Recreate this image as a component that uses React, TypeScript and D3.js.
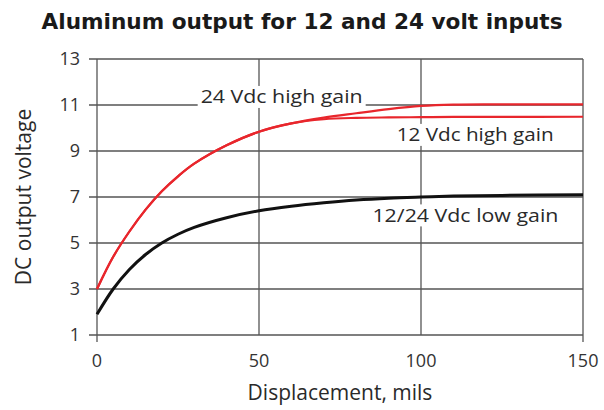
import * as d3 from 'd3';

const xTicks = [0, 50, 100, 150];
const yTicks = [1, 3, 5, 7, 9, 11, 13];

const disp = [0, 5, 10, 15, 20, 25, 30, 40, 50, 60, 70, 80, 90, 100, 110, 125, 150];
const high24 = [3, 4.4, 5.5, 6.45, 7.25, 7.9, 8.45, 9.25, 9.84, 10.2, 10.45, 10.64, 10.82, 10.96, 11.02, 11.03, 11.03];
const high12 = [3, 4.4, 5.5, 6.45, 7.25, 7.9, 8.45, 9.25, 9.84, 10.2, 10.38, 10.44, 10.46, 10.47, 10.48, 10.48, 10.49];
const low = [1.9, 3.0, 3.85, 4.5, 5.0, 5.38, 5.68, 6.1, 6.4, 6.6, 6.75, 6.87, 6.95, 7.0, 7.04, 7.07, 7.1];

const labels = [
  { text: '24 Vdc high gain', x: 32, y: 11.35, w: 162 },
  { text: '12 Vdc high gain', x: 92.5, y: 9.7, w: 157 },
  { text: '12/24 Vdc low gain', x: 85, y: 6.2, w: 186 },
];

export default function App() {
  const W = 604, H = 410;
  const x = d3.scaleLinear().domain([0, 150]).range([97, 583]);
  const y = d3.scaleLinear().domain([1, 13]).range([335, 59]);
  const line = d3.line<number>()
    .x((_, i) => x(disp[i]))
    .y(d => y(d))
    .curve(d3.curveCatmullRom.alpha(0.5));
  const font = "'Open Sans', 'DejaVu Sans', sans-serif";
  const grid = '#555';

  return (
    <svg width={W} height={H} style={{ position: 'absolute', left: 0, top: 0, background: '#fff' }}>
      <text x={302} y={29} textAnchor="middle" fontFamily="'DejaVu Sans', sans-serif" fontWeight="bold"
        fontSize={21} textLength={521} lengthAdjust="spacingAndGlyphs" fill="#1a1a1a">
        Aluminum output for 12 and 24 volt inputs
      </text>

      {yTicks.map(t => (
        <g key={'y' + t}>
          <line x1={89} x2={x(150)} y1={y(t)} y2={y(t)} stroke={grid} strokeWidth={1.3} />
          <text x={80} y={y(t)} dy="0.35em" textAnchor="end" fontFamily={font} fontSize={18} fill="#333">{t}</text>
        </g>
      ))}
      {xTicks.map(t => (
        <g key={'x' + t}>
          <line x1={x(t)} x2={x(t)} y1={y(13)} y2={t === 0 || t === 150 ? 342 : y(1)} stroke={grid} strokeWidth={1.3} />
          <text x={x(t)} y={361} dy="0.35em" textAnchor="middle" fontFamily={font} fontSize={18} fill="#333">{t}</text>
        </g>
      ))}

      {labels.map(l => (
        <g key={l.text}>
          <rect x={x(l.x) - 3} y={y(l.y) - 11} width={l.w + 6} height={22} fill="#fff" />
          <text x={x(l.x)} y={y(l.y)} dy="0.35em" fontFamily={font} fontSize={18} fill="#2a2a2a"
            textLength={l.w} lengthAdjust="spacingAndGlyphs">{l.text}</text>
        </g>
      ))}

      <path d={line(low) ?? ''} fill="none" stroke="#111" strokeWidth={3} />
      <path d={line(high12) ?? ''} fill="none" stroke="#e8262c" strokeWidth={2.2} />
      <path d={line(high24) ?? ''} fill="none" stroke="#e8262c" strokeWidth={2.2} />

      <text x={340} y={393} dy="0.35em" textAnchor="middle" fontFamily={font} fontSize={21} fill="#2a2a2a">
        Displacement, mils
      </text>
      <text transform={`translate(24,${y(7)}) rotate(-90)`} dy="0.35em" textAnchor="middle" fontFamily={font}
        fontSize={21} fill="#2a2a2a">
        DC output voltage
      </text>
    </svg>
  );
}
